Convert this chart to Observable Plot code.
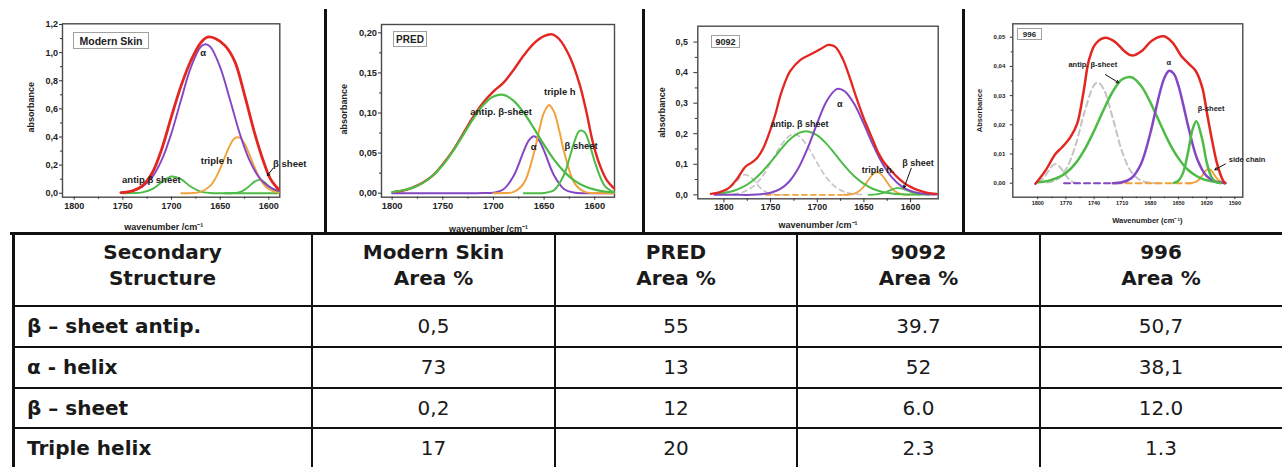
<!DOCTYPE html>
<html><head><meta charset="utf-8">
<script src="https://cdn.jsdelivr.net/npm/d3@7"></script>
<script src="https://cdn.jsdelivr.net/npm/@observablehq/plot@0.6"></script>
<style>
body{margin:0;background:#fff;}
#root{position:relative;width:1282px;height:467px;overflow:hidden;background:#fff;font-family:"Liberation Sans",Arial,sans-serif;}
.panel{position:absolute;top:0;}
.bar{position:absolute;background:#111;}
.tag{position:absolute;border:1px solid #a0a0a0;font-weight:bold;color:#222;display:flex;align-items:center;justify-content:center;background:#fff;box-sizing:border-box;font-family:"Liberation Sans",Arial,sans-serif;}
.cell{position:absolute;font-family:"DejaVu Sans",Verdana,sans-serif;font-size:20px;color:#1a1a1a;box-sizing:border-box;}
</style></head><body><div id="root"></div><script>
// ---------- table data ----------
const structures = ["β – sheet antip.", "α - helix", "β – sheet", "Triple helix"];
const samples = ["Modern Skin", "PRED", "9092", "996"];
const areaSkin = ["0,5", "73", "0,2", "17"];
const areaPred = ["55", "13", "12", "20"];
const area9092 = ["39.7", "52", "6.0", "2.3"];
const area996 = ["50,7", "38,1", "12.0", "1.3"];

// ---------- Modern Skin ----------
const skinXTicks = [1800, 1750, 1700, 1650, 1600];
const skinXMinor = [1775, 1725, 1675, 1625];
const skinYTicks = [0, 0.2, 0.4, 0.6, 0.8, 1.0, 1.2];
const skinYLabels = ["0,0", "0,2", "0,4", "0,6", "0,8", "1,0", "1,2"];
const skinYMinor = [0.1, 0.3, 0.5, 0.7, 0.9, 1.1];
const skinTotal = [[1752,0.004],[1740,0.017],[1730,0.053],[1720,0.142],[1710,0.315],[1700,0.547],[1690,0.767],[1680,0.944],[1670,1.070],[1663,1.110],[1655,1.100],[1645,1.050],[1635,0.938],[1625,0.702],[1615,0.438],[1605,0.217],[1598,0.098],[1590,0.029]];
const skinAlpha = [[1750,0.005],[1740,0.017],[1730,0.047],[1720,0.113],[1710,0.237],[1700,0.428],[1690,0.668],[1680,0.897],[1670,1.041],[1665,1.060],[1660,1.041],[1650,0.897],[1640,0.668],[1630,0.428],[1620,0.237],[1610,0.113],[1600,0.047],[1590,0.017]];
const skinAntip = [[1750,0],[1740,0.001],[1730,0.006],[1720,0.029],[1710,0.078],[1700,0.119],[1690,0.099],[1680,0.046],[1670,0.012],[1660,0.002],[1650,0],[1630,0],[1610,0],[1590,0]];
const skinTriple = [[1690,0],[1680,0.001],[1670,0.010],[1660,0.054],[1655,0.104],[1650,0.175],[1645,0.260],[1640,0.340],[1635,0.391],[1630,0.396],[1625,0.353],[1620,0.277],[1615,0.191],[1610,0.116],[1605,0.062],[1600,0.029],[1590,0.004]];
const skinBeta = [[1645,0],[1635,0.002],[1630,0.008],[1625,0.024],[1620,0.051],[1615,0.081],[1610,0.095],[1605,0.081],[1600,0.051],[1595,0.024],[1590,0.008]];
const skinNotes = [{x:1667.4,y:0.995,t:"α"},{x:1653.7,y:0.232,t:"triple h"},{x:1720.7,y:0.097,t:"antip β sheet"},{x:1578.5,y:0.209,t:"β sheet"}];
const skinPointers = [{x1:1595.6,y1:0.178,x2:1601.5,y2:0.125}];

// ---------- PRED ----------
const predYTicks = [0, 0.05, 0.1, 0.15, 0.2];
const predYLabels = ["0,00", "0,05", "0,10", "0,15", "0,20"];
const predYMinor = [0.025, 0.075, 0.125, 0.175];
const predTotal = [[1797,0.002],[1790,0.003],[1780,0.007],[1770,0.013],[1760,0.022],[1750,0.036],[1740,0.053],[1730,0.074],[1720,0.095],[1710,0.113],[1700,0.127],[1690,0.138],[1680,0.154],[1670,0.172],[1660,0.187],[1650,0.196],[1642,0.198],[1635,0.192],[1625,0.171],[1615,0.136],[1608,0.100],[1602,0.064],[1595,0.035],[1588,0.016],[1581,0.006]];
const predAntip = [[1800,0.0015],[1790,0.0033],[1780,0.0066],[1770,0.0125],[1760,0.0218],[1750,0.0351],[1740,0.0525],[1730,0.0725],[1720,0.0928],[1710,0.110],[1700,0.1207],[1690,0.1226],[1680,0.1152],[1670,0.1003],[1660,0.0808],[1650,0.0603],[1640,0.0416],[1630,0.0266],[1620,0.0157],[1610,0.0086],[1600,0.0044],[1590,0.0021],[1581,0.0009]];
const predAlpha = [[1800,0],[1760,0],[1720,0],[1710,0.0001],[1700,0.0006],[1690,0.0049],[1680,0.0218],[1670,0.0528],[1665,0.066],[1660,0.071],[1655,0.066],[1650,0.0528],[1640,0.0218],[1630,0.0049],[1620,0.0006],[1610,0],[1595,0],[1581,0]];
const predTriple = [[1700,0],[1690,0.0001],[1680,0.0016],[1670,0.0125],[1660,0.0504],[1655,0.0778],[1650,0.1008],[1645,0.110],[1640,0.1008],[1635,0.0778],[1630,0.0504],[1620,0.0125],[1610,0.0016],[1600,0.0001],[1581,0]];
const predBeta = [[1670,0],[1660,0],[1650,0.0003],[1640,0.0039],[1630,0.0239],[1625,0.0436],[1620,0.0645],[1615,0.0777],[1610,0.0761],[1605,0.0607],[1600,0.0393],[1590,0.0089],[1581,0.0012]];
const predNotes = [{x:1692.4,y:0.1019,t:"antip. β-sheet"},{x:1634.5,y:0.126,t:"triple h"},{x:1660.2,y:0.0582,t:"α"},{x:1613.5,y:0.059,t:"β sheet"}];

// ---------- 9092 ----------
const s9092YTicks = [0, 0.1, 0.2, 0.3, 0.4, 0.5];
const s9092YLabels = ["0,0", "0,1", "0,2", "0,3", "0,4", "0,5"];
const s9092YMinor = [0.05, 0.15, 0.25, 0.35, 0.45];
const s9092Total = [[1814,0.003],[1805,0.008],[1795,0.022],[1786,0.052],[1777,0.092],[1770,0.106],[1764,0.122],[1757,0.158],[1750,0.215],[1745,0.262],[1740,0.320],[1735,0.365],[1729,0.405],[1718,0.442],[1707,0.460],[1696,0.478],[1688,0.491],[1681,0.485],[1673,0.447],[1666,0.391],[1659,0.326],[1650,0.249],[1641,0.184],[1634,0.134],[1628,0.104],[1621,0.080],[1614,0.057],[1607,0.039],[1600,0.026],[1593,0.016],[1585,0.009],[1578,0.005],[1572,0.003]];
const s9092Antip = [[1810,0.0025],[1800,0.0059],[1790,0.0127],[1780,0.0249],[1770,0.0444],[1760,0.0722],[1750,0.1072],[1740,0.1451],[1730,0.1793],[1720,0.2020],[1710,0.2076],[1700,0.1947],[1690,0.1666],[1680,0.1300],[1670,0.0925],[1660,0.0601],[1650,0.0356],[1640,0.0192],[1630,0.0095],[1620,0.0043],[1610,0.0018],[1600,0.0007],[1590,0.0003]];
const s9092Alpha = [[1810,0],[1790,0],[1770,0],[1760,0.002],[1750,0.0067],[1740,0.0184],[1730,0.0435],[1720,0.0884],[1710,0.1551],[1700,0.2346],[1690,0.3062],[1680,0.3447],[1677,0.347],[1670,0.3377],[1660,0.2955],[1650,0.2315],[1640,0.1622],[1630,0.1017],[1620,0.0571],[1610,0.0287],[1600,0.0129],[1590,0.0052],[1580,0.0019],[1572,0.001]];
const s9092Gray = [[1790,0.0025],[1780,0.0087],[1770,0.0245],[1760,0.0559],[1750,0.1038],[1740,0.1569],[1730,0.1930],[1725,0.198],[1720,0.1930],[1710,0.1569],[1700,0.1038],[1690,0.0559],[1680,0.0245],[1670,0.0087],[1660,0.0025],[1650,0.0007]];
const s9092GraySmall = [[1810,0.0007],[1800,0.0074],[1790,0.0328],[1780,0.0636],[1777,0.066],[1770,0.0539],[1760,0.0200],[1750,0.0032],[1740,0.0002],[1730,0]];
const s9092TripleBase = [[1755,0],[1668,0]];
const s9092Triple = [[1671,0.0002],[1666,0.0008],[1661,0.0032],[1656,0.010],[1651,0.024],[1646,0.0449],[1641,0.0653],[1636,0.074],[1631,0.0653],[1626,0.0449],[1621,0.024],[1616,0.010],[1611,0.0032],[1606,0.0008],[1601,0.0002]];
const s9092Beta = [[1645,0.0001],[1640,0.0006],[1635,0.002],[1630,0.0052],[1625,0.0107],[1620,0.0172],[1615,0.0216],[1610,0.021],[1605,0.016],[1600,0.0095],[1595,0.0044],[1590,0.0016],[1585,0.0004],[1580,0.0001]];
const s9092Notes = [{x:1676,y:0.298,t:"α"},{x:1719,y:0.2325,t:"antip. β sheet"},{x:1635,y:0.082,t:"triple h."},{x:1592,y:0.105,t:"β sheet"}];
const s9092Pointers = [{x1:1599.3,y1:0.087,x2:1607,y2:0.023}];

// ---------- 996 ----------
const s996XTicks = [1800, 1770, 1740, 1710, 1680, 1650, 1620, 1590];
const s996XMinor = [1785, 1755, 1725, 1695, 1665, 1635, 1605];
const s996YTicks = [0, 0.01, 0.02, 0.03, 0.04, 0.05];
const s996YLabels = ["0,00", "0,01", "0,02", "0,03", "0,04", "0,05"];
const s996YMinor = [0.005, 0.015, 0.025, 0.035, 0.045];
const s996Total = [[1802.5,-0.0002],[1791.8,0.0043],[1781.2,0.0100],[1774.1,0.0123],[1765.2,0.0158],[1758.1,0.0203],[1751,0.0317],[1745.6,0.0420],[1738.5,0.0477],[1727.9,0.0498],[1717.2,0.0483],[1706.5,0.0449],[1699.4,0.0437],[1688.8,0.0454],[1678.1,0.0489],[1665.7,0.0503],[1656.8,0.0483],[1646.1,0.0432],[1639,0.0409],[1632,0.0386],[1624.8,0.0329],[1619.5,0.0237],[1614.2,0.0146],[1608.8,0.0066],[1603.5,0.0015],[1600.7,0]];
const s996Antip = [[1800,0.0003],[1790,0.0007],[1780,0.0017],[1770,0.0035],[1760,0.0067],[1750,0.0116],[1740,0.0179],[1730,0.025],[1720,0.0314],[1710,0.0356],[1700,0.0363],[1690,0.0334],[1680,0.0277],[1670,0.0207],[1660,0.0139],[1650,0.0085],[1640,0.0046],[1630,0.0023],[1620,0.001],[1610,0.0004],[1600,0.0001]];
const s996Gray = [[1790,0.0002],[1780,0.0012],[1770,0.0047],[1760,0.0127],[1750,0.0246],[1740,0.0336],[1736,0.0345],[1730,0.0324],[1720,0.0222],[1710,0.0107],[1700,0.0037],[1690,0.0009],[1680,0.0002],[1670,0]];
const s996GraySmall = [[1800,0.0004],[1795,0.0014],[1790,0.0035],[1785,0.0058],[1781,0.0066],[1775,0.005],[1770,0.0026],[1765,0.0009],[1760,0.0002],[1755,0]];
const s996AlphaBase = [[1772,0],[1718,0]];
const s996Alpha = [[1720,0],[1710,0.0003],[1700,0.0018],[1690,0.0066],[1680,0.0172],[1675,0.0241],[1670,0.0309],[1665,0.0361],[1660,0.0385],[1655,0.0375],[1650,0.0333],[1645,0.0269],[1640,0.0199],[1630,0.0082],[1620,0.0024],[1610,0.0005],[1600,0.0001]];
const s996Beta = [[1655,0.0001],[1650,0.0009],[1645,0.0037],[1640,0.0103],[1635,0.0184],[1631,0.0212],[1625,0.0154],[1620,0.0072],[1615,0.0022],[1610,0.0004],[1605,0]];
const s996SideBase = [[1717,0],[1636,0]];
const s996Side = [[1640,0],[1635,0.0001],[1630,0.0007],[1625,0.0025],[1620,0.0046],[1618,0.0049],[1615,0.0043],[1610,0.002],[1605,0.0005],[1600,0.0001]];
const s996Notes = [{x:1741.4,y:0.0406,t:"antip. β-sheet"},{x:1660.4,y:0.0414,t:"α"},{x:1615.2,y:0.0255,t:"β-sheet"},{x:1576.9,y:0.0081,t:"side chain"}];
const s996Pointers = [{x1:1727.9,y1:0.0372,x2:1713.7,y2:0.0344},{x1:1600,y1:0.0066,x2:1611.3,y2:0.0046}];

// ---------- styling ----------
const RED = "#e3261f", PURPLE = "#8447c4", GREEN = "#4cbc46", ORANGE = "#f1a23c", GRAY = "#c4c4c4";
const root = document.getElementById("root");

function drawPanel(p) {
  const marks = [
    Plot.frame({stroke: "#4a4a4a", strokeWidth: 1.4}),
    Plot.axisX({ticks: p.xMinor, tickSize: p.minor, fill: "none", label: null, stroke: "#333"}),
    Plot.axisY({ticks: p.yMinor, tickSize: p.minor, fill: "none", label: null, stroke: "#333"}),
    Plot.axisX({ticks: p.xTicks, tickSize: p.tick, tickPadding: p.padX, tickFormat: d => String(d), fontSize: p.xFont, fontWeight: "bold", label: null, stroke: "#333", fill: "#222"}),
    Plot.axisY({ticks: p.yTicks, tickSize: p.tick, tickPadding: p.padY, tickFormat: d => p.yLabels[p.yTicks.indexOf(d)], fontSize: p.yFont, fontWeight: "bold", label: null, stroke: "#333", fill: "#222"}),
    ...p.curves.map(c => Plot.line(c.data, {x: d => d[0], y: d => d[1], stroke: c.color, strokeWidth: c.w, strokeDasharray: c.dash, curve: "catmull-rom"})),
    Plot.text(p.notes, {x: "x", y: "y", text: "t", fontSize: p.noteFont, fontWeight: "bold", fill: "#222"}),
    Plot.arrow(p.pointers || [], {x1: "x1", y1: "y1", x2: "x2", y2: "y2", stroke: "#111", strokeWidth: 1, headLength: 4}),
    Plot.text([p.xTitle], {text: d => d, frameAnchor: "bottom", lineAnchor: "middle", textAnchor: "middle", dx: p.xtd[0], dy: p.xtd[1], fontSize: p.titleFont, fontWeight: "bold", fill: "#222"}),
    Plot.text([p.yTitle], {text: d => d, frameAnchor: "left", lineAnchor: "middle", textAnchor: "middle", rotate: -90, dx: p.ytd[0], dy: p.ytd[1], fontSize: p.titleFont, fontWeight: "bold", fill: "#222"})
  ];
  const svg = Plot.plot({
    width: p.width, height: 232,
    marginLeft: p.ml, marginRight: p.mr, marginTop: p.mt, marginBottom: p.mb,
    x: {domain: p.xDomain},
    y: {domain: p.yDomain},
    style: {fontFamily: "'Liberation Sans', Arial, sans-serif", background: "transparent", overflow: "visible", color: "#222"},
    marks
  });
  const wrap = document.createElement("div");
  wrap.className = "panel";
  wrap.style.left = p.left + "px";
  wrap.appendChild(svg);
  root.appendChild(wrap);
  const tag = document.createElement("div");
  tag.className = "tag";
  Object.assign(tag.style, {left: p.tag[0] + "px", top: p.tag[1] + "px", width: p.tag[2] + "px", height: p.tag[3] + "px", fontSize: p.tag[4] + "px"});
  tag.textContent = p.name;
  root.appendChild(tag);
}

drawPanel({
  name: samples[0], left: 0, width: 324, ml: 62, mr: 44.7, mt: 23.3, mb: 35.3,
  xDomain: [1812, 1588.7], yDomain: [-0.028, 1.205],
  xTicks: skinXTicks, xMinor: skinXMinor, yTicks: skinYTicks, yLabels: skinYLabels, yMinor: skinYMinor,
  tick: 3, minor: 2, padX: 2, padY: 1.5, xFont: 9, yFont: 9, noteFont: 9.5, titleFont: 9,
  xTitle: "wavenumber /cm⁻¹", yTitle: "absorbance", xtd: [-7.5, 30], ytd: [-31.7, -3.3],
  curves: [
    {data: skinAntip, color: GREEN, w: 1.9},
    {data: skinBeta, color: GREEN, w: 1.9},
    {data: skinTriple, color: ORANGE, w: 1.9},
    {data: skinAlpha, color: PURPLE, w: 1.9},
    {data: skinTotal, color: RED, w: 2.8}
  ],
  notes: skinNotes, pointers: skinPointers,
  tag: [73, 32, 76, 17, 10.5]
});

drawPanel({
  name: samples[1], left: 328, width: 312, ml: 53, mr: 26, mt: 24, mb: 35.3,
  xDomain: [1810.5, 1580.5], yDomain: [-0.005, 0.2104],
  xTicks: skinXTicks, xMinor: skinXMinor, yTicks: predYTicks, yLabels: predYLabels, yMinor: predYMinor,
  tick: 3, minor: 2, padX: 2, padY: 1.5, xFont: 9.3, yFont: 9.3, noteFont: 9.5, titleFont: 9,
  xTitle: "wavenumber /cm⁻¹", yTitle: "absorbance", xtd: [-9.4, 31.6], ytd: [-37.4, -1.7],
  curves: [
    {data: predAlpha, color: PURPLE, w: 2},
    {data: predTriple, color: ORANGE, w: 2},
    {data: predBeta, color: GREEN, w: 2},
    {data: predTotal, color: RED, w: 2.4},
    {data: predAntip, color: GREEN, w: 2.2}
  ],
  notes: predNotes,
  tag: [393, 31, 34, 16, 10]
});

drawPanel({
  name: samples[2], left: 645, width: 315, ml: 52.3, mr: 22.3, mt: 25.7, mb: 33.7,
  xDomain: [1828, 1570.4], yDomain: [-0.013, 0.552],
  xTicks: skinXTicks, xMinor: skinXMinor, yTicks: s9092YTicks, yLabels: s9092YLabels, yMinor: s9092YMinor,
  tick: 4, minor: 2.5, padX: 1, padY: 6, xFont: 8.8, yFont: 8.8, noteFont: 9, titleFont: 9,
  xTitle: "wavenumber /cm⁻¹", yTitle: "absorbance", xtd: [0, 26.7], ytd: [-35.3, 0],
  curves: [
    {data: s9092GraySmall, color: GRAY, w: 1.6, dash: "5,4"},
    {data: s9092Gray, color: GRAY, w: 1.6, dash: "5,4"},
    {data: s9092TripleBase, color: ORANGE, w: 1.8, dash: "5,4"},
    {data: s9092Triple, color: ORANGE, w: 1.8},
    {data: s9092Beta, color: GREEN, w: 1.8},
    {data: s9092Antip, color: GREEN, w: 2},
    {data: s9092Alpha, color: PURPLE, w: 2},
    {data: s9092Total, color: RED, w: 2.3}
  ],
  notes: s9092Notes, pointers: s9092Pointers,
  tag: [711, 35, 29, 13, 9]
});

drawPanel({
  name: samples[3], left: 964, width: 318, ml: 48.3, mr: 39.7, mt: 23.3, mb: 35.3,
  xDomain: [1826.6, 1581.5], yDomain: [-0.0048, 0.0546],
  xTicks: s996XTicks, xMinor: s996XMinor, yTicks: s996YTicks, yLabels: s996YLabels, yMinor: s996YMinor,
  tick: 2.5, minor: 1.5, padX: 1, padY: 5, xFont: 5.5, yFont: 6, noteFont: 7.5, titleFont: 7.5,
  xTitle: "Wavenumber (cm⁻¹)", yTitle: "Absorbance", xtd: [19.5, 23.3], ytd: [-33.7, 0],
  curves: [
    {data: s996GraySmall, color: GRAY, w: 2, dash: "6,4"},
    {data: s996Gray, color: GRAY, w: 2, dash: "6,4"},
    {data: s996AlphaBase, color: PURPLE, w: 2, dash: "6,4"},
    {data: s996SideBase, color: ORANGE, w: 2, dash: "6,4"},
    {data: s996Side, color: ORANGE, w: 2},
    {data: s996Antip, color: GREEN, w: 2.5},
    {data: s996Alpha, color: PURPLE, w: 2.5},
    {data: s996Beta, color: GREEN, w: 2.5},
    {data: s996Total, color: RED, w: 2.5}
  ],
  notes: s996Notes, pointers: s996Pointers,
  tag: [1017, 28, 25, 12, 8]
});

// ---------- frame lines ----------
function bar(l, t, w, h) {
  const d = document.createElement("div");
  d.className = "bar";
  Object.assign(d.style, {left: l + "px", top: t + "px", width: w + "px", height: h + "px"});
  root.appendChild(d);
}
bar(324, 9, 3, 225);
bar(642, 9, 3, 225);
bar(962, 9, 3, 225);
bar(10, 232, 1272, 3);

// ---------- table ----------
const colX = [13, 312, 555, 797, 1040, 1282];
const rowY = [234, 306, 347, 388, 428, 469];
const headers = ["Secondary\nStructure", ...samples.map(s => s + "\nArea %")];
const columns = [areaSkin, areaPred, area9092, area996];

bar(12, 233, 3, 240);
for (let i = 1; i < colX.length - 1; i++) bar(colX[i] - 1, 233, 2, 240);
for (let r = 1; r < rowY.length - 1; r++) bar(13, rowY[r] - 1, 1269, 2);

function cell(text, l, t, w, h, css) {
  const d = document.createElement("div");
  d.className = "cell";
  Object.assign(d.style, {left: l + "px", top: t + "px", width: w + "px", height: h + "px"}, css);
  d.textContent = text;
  root.appendChild(d);
}
headers.forEach((h, i) => cell(h, colX[i], rowY[0] + 5, colX[i + 1] - colX[i], 60,
  {fontWeight: "bold", textAlign: "center", whiteSpace: "pre-line", lineHeight: "26px"}));
structures.forEach((s, r) => {
  const t = rowY[r + 1], h = rowY[r + 2] - rowY[r + 1];
  cell(s, colX[0] + 14, t, colX[1] - colX[0] - 14, h, {fontWeight: "bold", lineHeight: h + "px"});
  columns.forEach((col, c) => cell(col[r], colX[c + 1], t, colX[c + 2] - colX[c + 1], h,
    {textAlign: "center", lineHeight: h + "px"}));
});
</script></body></html>
